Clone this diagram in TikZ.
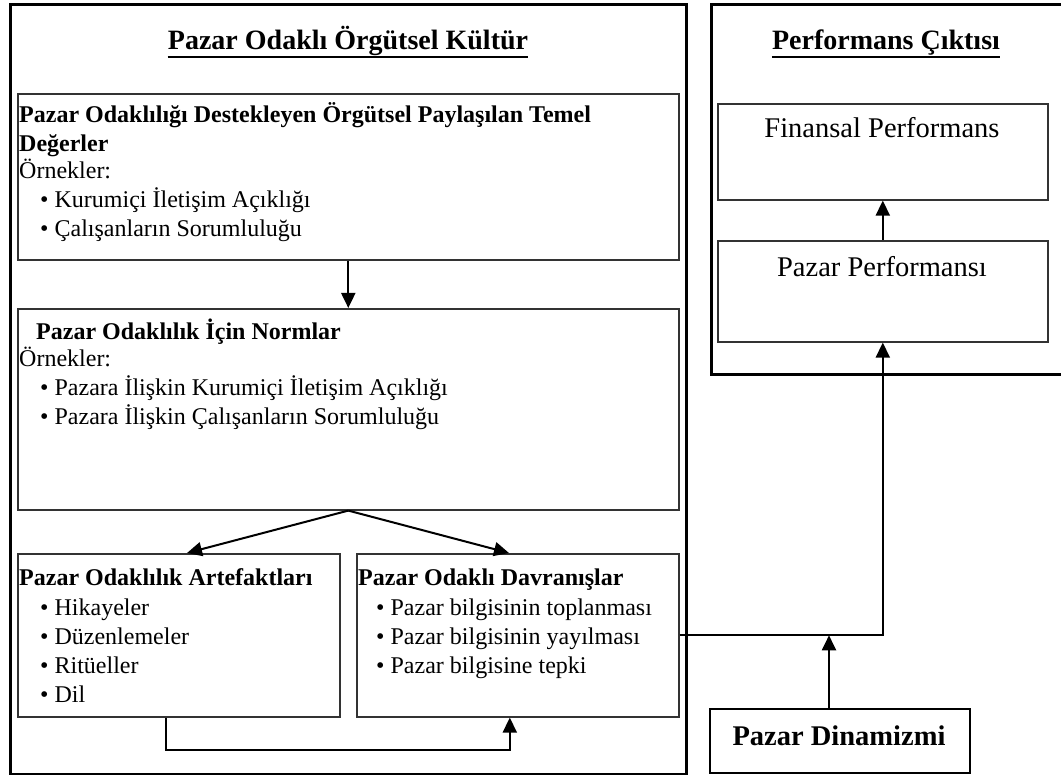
\documentclass[tikz,border=0pt]{standalone}
\usepackage{fontspec}
\setmainfont{Liberation Serif}
\usetikzlibrary{arrows.meta}
\begin{document}
\begin{tikzpicture}[x=1pt,y=-1pt,
  outer/.style={draw=black,line width=3pt,rectangle,inner sep=0pt,anchor=north west},
  inbox/.style={draw=black!80,line width=1.6pt,rectangle,inner sep=0pt,anchor=north west},
  arr/.style={draw=black,line width=2pt,-{Triangle[width=14pt,length=15pt]}},
  ln/.style={draw=black,line width=2pt},
  ttl/.style={font=\fontsize{28}{32}\selectfont\bfseries,inner sep=0pt,anchor=base},
  uline/.style={draw=black,line width=2.6pt},
  hd/.style={font=\fontsize{24}{29}\selectfont\bfseries,inner sep=0pt,anchor=base west},
  tx/.style={font=\fontsize{24}{29}\selectfont,inner sep=0pt,anchor=base west},
  big/.style={font=\fontsize{28.5}{32}\selectfont,inner sep=0pt,anchor=base},
  bigb/.style={font=\fontsize{28.5}{32}\selectfont\bfseries,inner sep=0pt,anchor=base}]
\useasboundingbox (0,0) rectangle (1061,775);

% outer frames
\node[outer,minimum width=676pt,minimum height=770pt] (L) at (9,3) {};
\node[outer,minimum width=353pt,minimum height=370pt] (R) at (710,3) {};

% titles
\node[ttl] (t1) at (348,50) {Pazar Odaklı Örgütsel Kültür};
\draw[uline] ([yshift=-7pt]t1.base west) -- ([yshift=-7pt]t1.base east);
\node[ttl] (t2) at (886,50) {Performans Çıktısı};
\draw[uline] ([yshift=-7pt]t2.base west) -- ([yshift=-7pt]t2.base east);

% box 1
\node[inbox,minimum width=661pt,minimum height=166pt] (b1) at (17,93) {};
\node[hd] (b1h1) at (19,123) {Pazar Odaklılığı Destekleyen Örgütsel Paylaşılan Temel};
\node[hd] (b1h2) at (19,152) {Değerler};
\node[tx] (b1o) at (19,179) {Örnekler:};
\node[tx] (b1a) at (40,208) {• Kurumiçi İletişim Açıklığı};
\node[tx] (b1b) at (40,237) {• Çalışanların Sorumluluğu};

% box 2
\node[inbox,minimum width=661pt,minimum height=201pt] (b2) at (17,308) {};
\node[hd] (b2h) at (36,340) {Pazar Odaklılık İçin Normlar};
\node[tx] (b2o) at (19,367) {Örnekler:};
\node[tx] (b2a) at (40,396) {• Pazara İlişkin Kurumiçi İletişim Açıklığı};
\node[tx] (b2b) at (40,425) {• Pazara İlişkin Çalışanların Sorumluluğu};

% box 3
\node[inbox,minimum width=322pt,minimum height=163pt] (b3) at (17,553) {};
\node[hd] (b3h) at (19,585) {Pazar Odaklılık Artefaktları};
\node[tx] (b3a) at (40,615) {• Hikayeler};
\node[tx] (b3b) at (40,644) {• Düzenlemeler};
\node[tx] (b3c) at (40,673) {• Ritüeller};
\node[tx] (b3d) at (40,702) {• Dil};

% box 4
\node[inbox,minimum width=322pt,minimum height=163pt] (b4) at (356,553) {};
\node[hd] (b4h) at (358,585) {Pazar Odaklı Davranışlar};
\node[tx] (b4a) at (376,615) {• Pazar bilgisinin toplanması};
\node[tx] (b4b) at (376,644) {• Pazar bilgisinin yayılması};
\node[tx] (b4c) at (376,673) {• Pazar bilgisine tepki};

% right side boxes
\node[inbox,minimum width=330pt,minimum height=96pt] (fp) at (717,103) {};
\node[big] (fpt) at (882,138) {Finansal Performans};
\node[inbox,minimum width=330pt,minimum height=101pt] (pp) at (717,240) {};
\node[big] (ppt) at (882,277) {Pazar Performansı};
\node[outer,line width=2pt,minimum width=260pt,minimum height=64pt] (pd) at (709,708) {};
\node[bigb] (pdt) at (839,745) {Pazar Dinamizmi};

% connectors
\coordinate (t3) at (187,553);
\coordinate (t4) at (509,553);
\draw[arr] (b1.south) -- (b2.north);
\draw[arr] (b2.south) -- (t3);
\draw[arr] (b2.south) -- (t4);
\draw[arr] ([xshift=-13pt]b3.south) -- ++(0,32) -| ([xshift=-8pt]b4.south);
\draw[arr] (b4.east) -| (pp.south);
\draw[arr] ([xshift=-11pt]pd.north) -- ([xshift=-11pt]pd.north |- b4.east);
\draw[arr] (pp.north) -- (fp.south);
\end{tikzpicture}
\end{document}
